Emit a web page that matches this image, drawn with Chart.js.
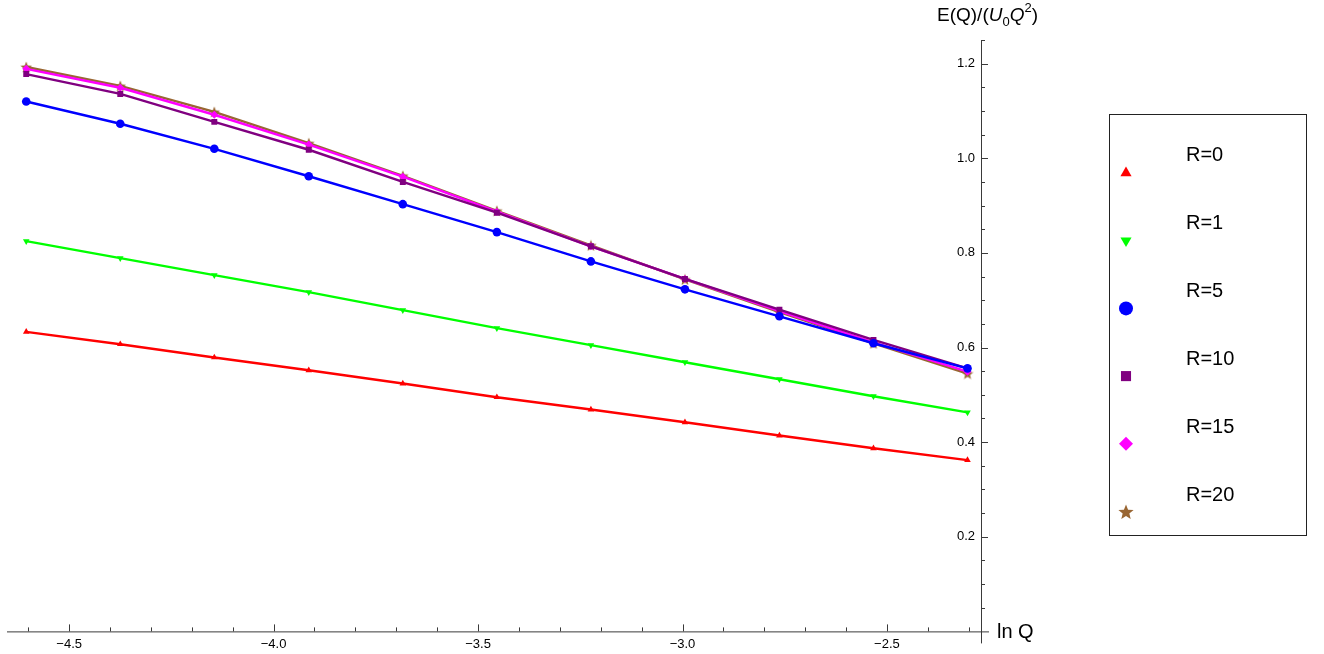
<!DOCTYPE html>
<html>
<head>
<meta charset="utf-8">
<script src="https://cdn.jsdelivr.net/npm/chart.js@4.4.1/dist/chart.umd.min.js"></script>
<style>
  html, body { margin: 0; padding: 0; background: #fff; }
</style>
</head>
<body>
<canvas id="energy-chart" width="1324" height="654"></canvas>
<script>
// ln Q sample positions and E(Q)/(U0 Q^2) for each R
const lnQ = [-4.605, -4.375, -4.145, -3.914, -3.684, -3.454, -3.224, -2.994, -2.763, -2.533, -2.303];
const seriesLabels = ["R=0", "R=1", "R=5", "R=10", "R=15", "R=20"];
const r0 = [0.633, 0.607, 0.579, 0.552, 0.524, 0.495, 0.469, 0.442, 0.414, 0.387, 0.362];
const r1 = [0.825, 0.789, 0.753, 0.717, 0.679, 0.641, 0.605, 0.569, 0.533, 0.497, 0.463];
const r5 = [1.12, 1.073, 1.02, 0.962, 0.903, 0.844, 0.782, 0.723, 0.666, 0.609, 0.556];
const r10 = [1.178, 1.136, 1.077, 1.018, 0.95, 0.885, 0.814, 0.745, 0.68, 0.616, 0.556];
const r15 = [1.189, 1.149, 1.092, 1.029, 0.961, 0.887, 0.814, 0.745, 0.677, 0.611, 0.549];
const r20 = [1.193, 1.153, 1.098, 1.032, 0.963, 0.889, 0.816, 0.744, 0.675, 0.609, 0.545];

const xTickValues = [-4.5, -4.0, -3.5, -3.0, -2.5];
const xTickLabels = ["\u22124.5", "\u22124.0", "\u22123.5", "\u22123.0", "\u22122.5"];
const yTickValues = [0.2, 0.4, 0.6, 0.8, 1.0, 1.2];
const yTickLabels = ["0.2", "0.4", "0.6", "0.8", "1.0", "1.2"];

const FONT = "'Liberation Sans', Arial, sans-serif";

function starPath(t, cx, cy, R) {
  const r = R * 0.44;
  t.beginPath();
  for (let i = 0; i < 10; i++) {
    const a = -Math.PI / 2 + (i * Math.PI) / 5;
    const rr = i % 2 ? r : R;
    t.lineTo(cx + rr * Math.cos(a), cy + rr * Math.sin(a));
  }
  t.closePath();
}

function starCanvas(size, color) {
  const c = document.createElement("canvas");
  c.width = c.height = size;
  const t = c.getContext("2d");
  t.fillStyle = color;
  starPath(t, size / 2, size / 2 + size * 0.05, size / 2);
  t.fill();
  return c;
}

function drawMarker(t, kind, x, y, s, color) {
  t.fillStyle = color;
  if (kind === "star") { starPath(t, x, y + 1, s); t.fill(); return; }
  t.beginPath();
  if (kind === "up") {
    t.moveTo(x, y - s); t.lineTo(x + s * 0.87, y + s * 0.5); t.lineTo(x - s * 0.87, y + s * 0.5);
  } else if (kind === "down") {
    t.moveTo(x, y + s); t.lineTo(x + s * 0.87, y - s * 0.5); t.lineTo(x - s * 0.87, y - s * 0.5);
  } else if (kind === "circle") {
    t.arc(x, y, s, 0, Math.PI * 2);
  } else if (kind === "square") {
    t.rect(x - s * 0.72, y - s * 0.72, s * 1.44, s * 1.44);
  } else if (kind === "diamond") {
    t.moveTo(x, y - s); t.lineTo(x + s, y); t.lineTo(x, y + s); t.lineTo(x - s, y);
  }
  t.closePath();
  t.fill();
}

const colors = ["#ff0000", "#00ff00", "#0000ff", "#800080", "#ff00ff", "#996633"];
const markerKinds = ["up", "down", "circle", "square", "diamond", "star"];
const pointStyles = ["triangle", "triangle", "circle", "rect", "rectRot", starCanvas(12, colors[5])];
const pointRotations = [0, 180, 0, 0, 0, 0];
const pointRadii = [3.8, 3.8, 4.3, 4.2, 4, 5];
const legendSizes = [6.4, 6.4, 7, 7, 7, 8];

const seriesValues = [r0, r1, r5, r10, r15, r20];

const axesPlugin = {
  id: "mmaAxes",
  beforeDatasetsDraw(chart) {
    const { ctx: t, chartArea: a, scales: { x, y } } = chart;
    t.save();
    t.strokeStyle = "#3a3a3a";
    t.lineWidth = 1;
    t.beginPath();
    t.moveTo(a.left, a.bottom + 0.5);
    t.lineTo(a.right + 8, a.bottom + 0.5);
    t.moveTo(a.right + 0.5, a.top);
    t.lineTo(a.right + 0.5, a.bottom + 12);
    for (let i = -46; i <= -23; i++) {
      const px = Math.round(x.getPixelForValue(i / 10)) + 0.5;
      const len = i % 5 === 0 ? 7 : 4;
      t.moveTo(px, a.bottom);
      t.lineTo(px, a.bottom - len);
    }
    for (let i = 1; i <= 25; i++) {
      const py = Math.round(y.getPixelForValue(i * 0.05)) + 0.5;
      const len = i % 4 === 0 ? 7 : 4;
      t.moveTo(a.right, py);
      t.lineTo(a.right + len, py);
    }
    t.stroke();
    t.restore();
  },
  afterDraw(chart) {
    const { ctx: t, chartArea: a } = chart;
    t.save();
    t.fillStyle = "#000";
    t.textBaseline = "alphabetic";
    // axis labels
    t.font = "20px " + FONT;
    t.fillText("ln Q", a.right + 16, a.bottom + 7);
    let cx = 937;
    const base = 21;
    const parts = [
      ["E(Q)/(", "19px", 0],
      ["U", "italic 19px", 0],
      ["0", "13px", 5],
      ["Q", "italic 19px", 0],
      ["2", "13px", -9],
      [")", "19px", 0],
    ];
    parts.forEach(([s, f, dy]) => {
      t.font = f + " " + FONT;
      t.fillText(s, cx, base + dy);
      cx += t.measureText(s).width;
    });
    // legend box
    t.strokeStyle = "#222";
    t.lineWidth = 1;
    t.strokeRect(1109.5, 114.5, 197, 421);
    chart.data.datasets.forEach((d, i) => {
      t.font = "20px " + FONT;
      t.fillStyle = "#000";
      t.textBaseline = "middle";
      t.fillText(d.label, 1186, 155 + i * 68);
      drawMarker(t, markerKinds[i], 1126, 173 + i * 67.7, legendSizes[i], colors[i]);
    });
    t.restore();
  },
};

new Chart(document.getElementById("energy-chart"), {
  type: "line",
  data: {
    datasets: seriesLabels.map((label, i) => ({
      label,
      data: lnQ.map((q, k) => ({ x: q, y: seriesValues[i][k] })),
      borderColor: colors[i],
      backgroundColor: colors[i],
      borderWidth: 2.4,
      pointStyle: pointStyles[i],
      rotation: pointRotations[i],
      pointRadius: pointRadii[i],
      pointBorderWidth: 0,
      tension: 0,
    })),
  },
  options: {
    responsive: false,
    animation: false,
    devicePixelRatio: 1,
    layout: { padding: { left: 7, top: 40, right: 343, bottom: -3 } },
    plugins: { legend: { display: false }, tooltip: { enabled: false } },
    scales: {
      x: {
        type: "linear",
        position: "bottom",
        min: -4.652,
        max: -2.27,
        grid: { display: false, drawTicks: false },
        border: { display: false },
        afterBuildTicks: (s) => { s.ticks = xTickValues.map((v) => ({ value: v })); },
        ticks: {
          autoSkip: false,
          maxRotation: 0,
          padding: 5,
          color: "#000",
          font: { family: FONT, size: 13 },
          callback: (v, i) => xTickLabels[i],
        },
      },
      y: {
        type: "linear",
        position: "right",
        min: 0,
        max: 1.25,
        grid: { display: false, drawTicks: false },
        border: { display: false },
        afterBuildTicks: (s) => { s.ticks = yTickValues.map((v) => ({ value: v })); },
        ticks: {
          mirror: true,
          padding: -6,
          color: "#000",
          font: { family: FONT, size: 13 },
          callback: (v, i) => yTickLabels[i],
        },
      },
    },
  },
  plugins: [axesPlugin],
});
</script>
</body>
</html>
